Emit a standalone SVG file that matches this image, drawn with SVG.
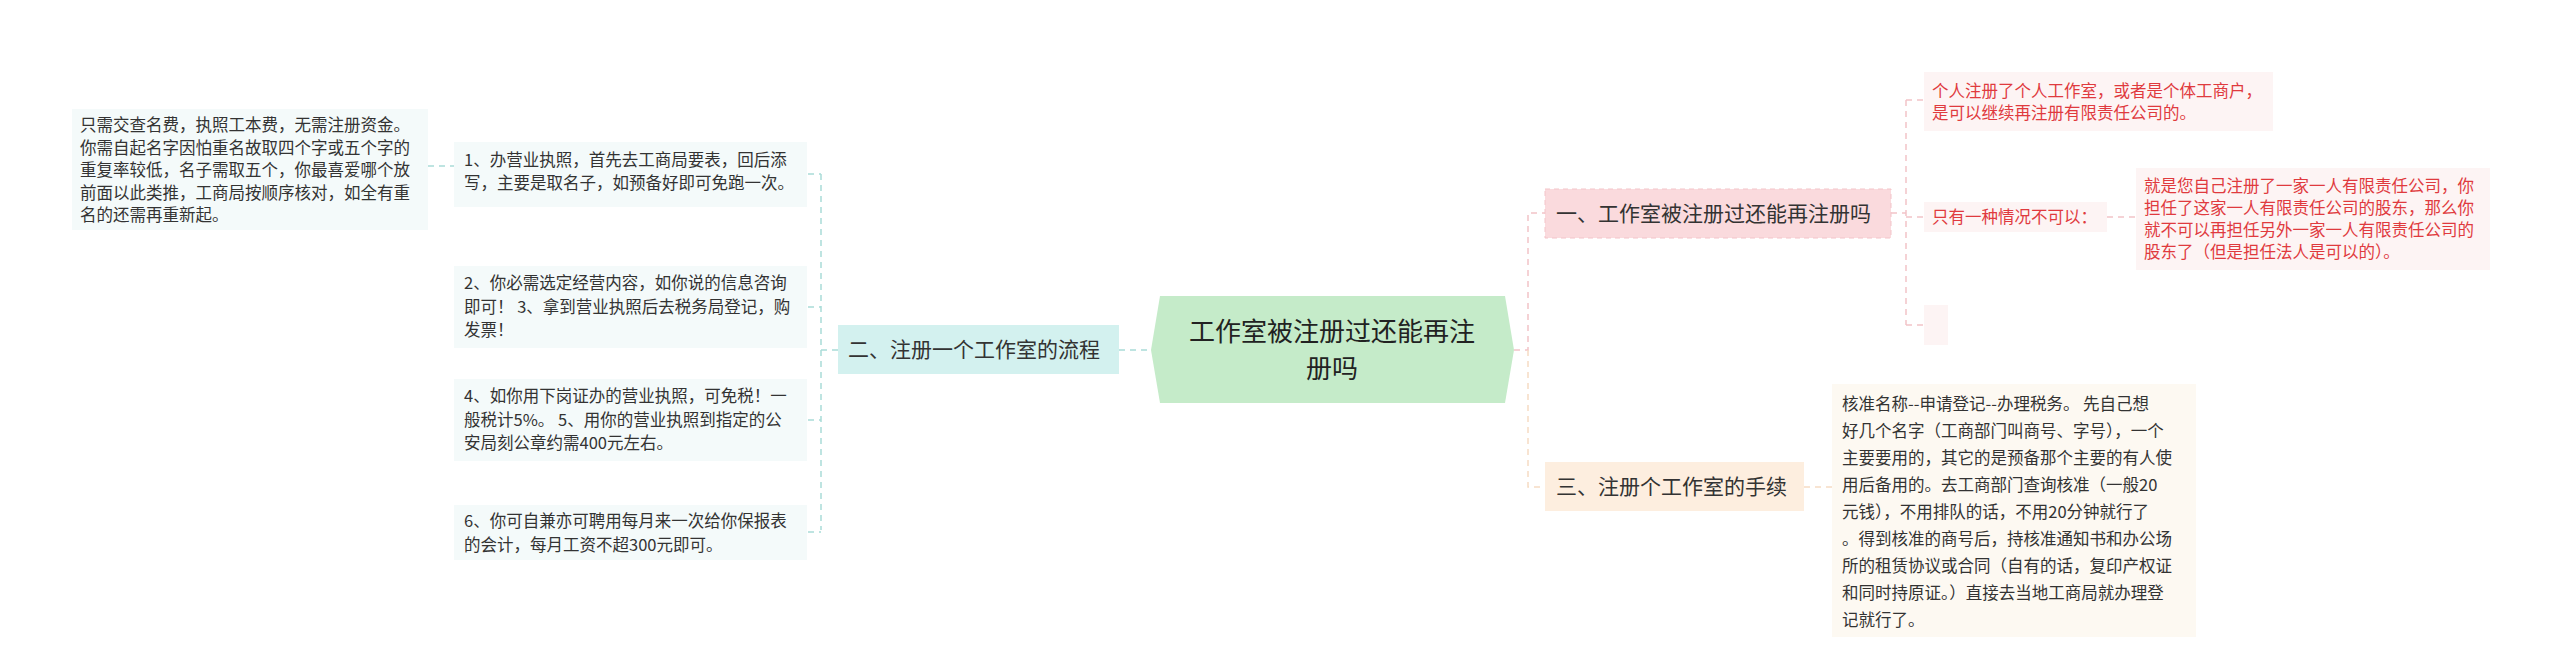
<svg xmlns="http://www.w3.org/2000/svg" width="2560" height="663" viewBox="0 0 2560 663">
<style>
text{font-family:"Noto Sans CJK SC","Liberation Sans",sans-serif;}
.leaf{fill:#f4fafa;}
.lt{font-size:16.5px;fill:#333;}
.rt{font-size:16.5px;fill:#e03a3e;}
.red{fill:#fdf4f4;}
.c{fill:none;stroke-width:1.5;stroke-dasharray:6 5;}
.cl{stroke:#a9dcd8;}
.cp{stroke:#f2c3c8;}
.co{stroke:#f6dcc3;}
</style>
<g id="connectors">
<path class="c cl" d="M1119 350H1151"/>
<path class="c cl" d="M821 174V530M808 174H821M808 307H821M808 420H821M808 532H821M821 350H838"/>
<path class="c cl" d="M428 166H454"/>
<path class="c cp" d="M1514 350H1528V213H1545"/>
<path class="c co" d="M1528 350V487H1545"/>
<path class="c cp" d="M1891 213H1906M1906 100V325M1906 100H1924M1906 217H1924M1906 325H1924M2107 217H2136"/>
<path class="c co" d="M1804 487H1832"/>
</g>
<g id="center">
<polygon points="1160,296 1505,296 1514,350 1505,403 1160,403 1151,350" fill="#c5ebc9"/>
<text x="1332" y="341" font-size="26" text-anchor="middle" fill="#222">工作室被注册过还能再注</text>
<text x="1332" y="378" font-size="26" text-anchor="middle" fill="#222">册吗</text>
</g>
<g id="b2">
<rect x="838" y="325" width="281" height="49" fill="#d3f1ef"/>
<text x="848" y="357" font-size="21" fill="#333">二、注册一个工作室的流程</text>
</g>
<g id="l1">
<rect class="leaf" x="454" y="142" width="353" height="65"/>
<text class="lt" x="464" y="166">1、办营业执照，首先去工商局要表，回后添</text>
<text class="lt" x="464" y="189">写，主要是取名子，如预备好即可免跑一次。</text>
</g>
<g id="l0">
<rect class="leaf" x="72" y="109" width="356" height="121"/>
<text class="lt" x="80" y="131">只需交查名费，执照工本费，无需注册资金。</text>
<text class="lt" x="80" y="153.5">你需自起名字因怕重名故取四个字或五个字的</text>
<text class="lt" x="80" y="176">重复率较低，名子需取五个，你最喜爱哪个放</text>
<text class="lt" x="80" y="198.5">前面以此类推，工商局按顺序核对，如全有重</text>
<text class="lt" x="80" y="221">名的还需再重新起。</text>
</g>
<g id="l2">
<rect class="leaf" x="454" y="266" width="353" height="82"/>
<text class="lt" x="464" y="289">2、你必需选定经营内容，如你说的信息咨询</text>
<text class="lt" x="464" y="312.5">即可！ 3、拿到营业执照后去税务局登记，购</text>
<text class="lt" x="464" y="336">发票！</text>
</g>
<g id="l3">
<rect class="leaf" x="454" y="379" width="353" height="82"/>
<text class="lt" x="464" y="402">4、如你用下岗证办的营业执照，可免税！一</text>
<text class="lt" x="464" y="425.5">般税计5%。 5、用你的营业执照到指定的公</text>
<text class="lt" x="464" y="449">安局刻公章约需400元左右。</text>
</g>
<g id="l4">
<rect class="leaf" x="454" y="505" width="353" height="55"/>
<text class="lt" x="464" y="527">6、你可自兼亦可聘用每月来一次给你保报表</text>
<text class="lt" x="464" y="550.5">的会计，每月工资不超300元即可。</text>
</g>
<g id="b1">
<rect x="1545" y="189" width="346" height="49" fill="#fadadd" stroke="#f3c4c9" stroke-dasharray="5 4"/>
<text x="1556" y="221" font-size="21" fill="#333">一、工作室被注册过还能再注册吗</text>
</g>
<g id="b3">
<rect x="1545" y="462" width="259" height="49" fill="#fdeedf"/>
<text x="1556" y="494" font-size="21" fill="#333">三、注册个工作室的手续</text>
</g>
<g id="r1">
<rect class="red" x="1924" y="72" width="349" height="59"/>
<text class="rt" x="1932" y="97">个人注册了个人工作室，或者是个体工商户，</text>
<text class="rt" x="1932" y="119">是可以继续再注册有限责任公司的。</text>
</g>
<g id="r2">
<rect class="red" x="1924" y="202" width="183" height="30"/>
<text class="rt" x="1932" y="223">只有一种情况不可以：</text>
</g>
<g id="r3">
<rect class="red" x="2136" y="168" width="354" height="102"/>
<text class="rt" x="2144" y="192">就是您自己注册了一家一人有限责任公司，你</text>
<text class="rt" x="2144" y="214">担任了这家一人有限责任公司的股东，那么你</text>
<text class="rt" x="2144" y="236">就不可以再担任另外一家一人有限责任公司的</text>
<text class="rt" x="2144" y="258">股东了（但是担任法人是可以的）。</text>
</g>
<g id="r4">
<rect class="red" x="1924" y="305" width="24" height="40"/>
</g>
<g id="r5">
<rect x="1832" y="384" width="364" height="253" fill="#fdf9f2"/>
<text class="lt" x="1842" y="410">核准名称--申请登记--办理税务。 先自己想</text>
<text class="lt" x="1842" y="437">好几个名字（工商部门叫商号、字号），一个</text>
<text class="lt" x="1842" y="464">主要要用的，其它的是预备那个主要的有人使</text>
<text class="lt" x="1842" y="491">用后备用的。去工商部门查询核准（一般20</text>
<text class="lt" x="1842" y="518">元钱），不用排队的话，不用20分钟就行了</text>
<text class="lt" x="1842" y="545">。得到核准的商号后，持核准通知书和办公场</text>
<text class="lt" x="1842" y="572">所的租赁协议或合同（自有的话，复印产权证</text>
<text class="lt" x="1842" y="599">和同时持原证。）直接去当地工商局就办理登</text>
<text class="lt" x="1842" y="626">记就行了。</text>
</g>
</svg>
